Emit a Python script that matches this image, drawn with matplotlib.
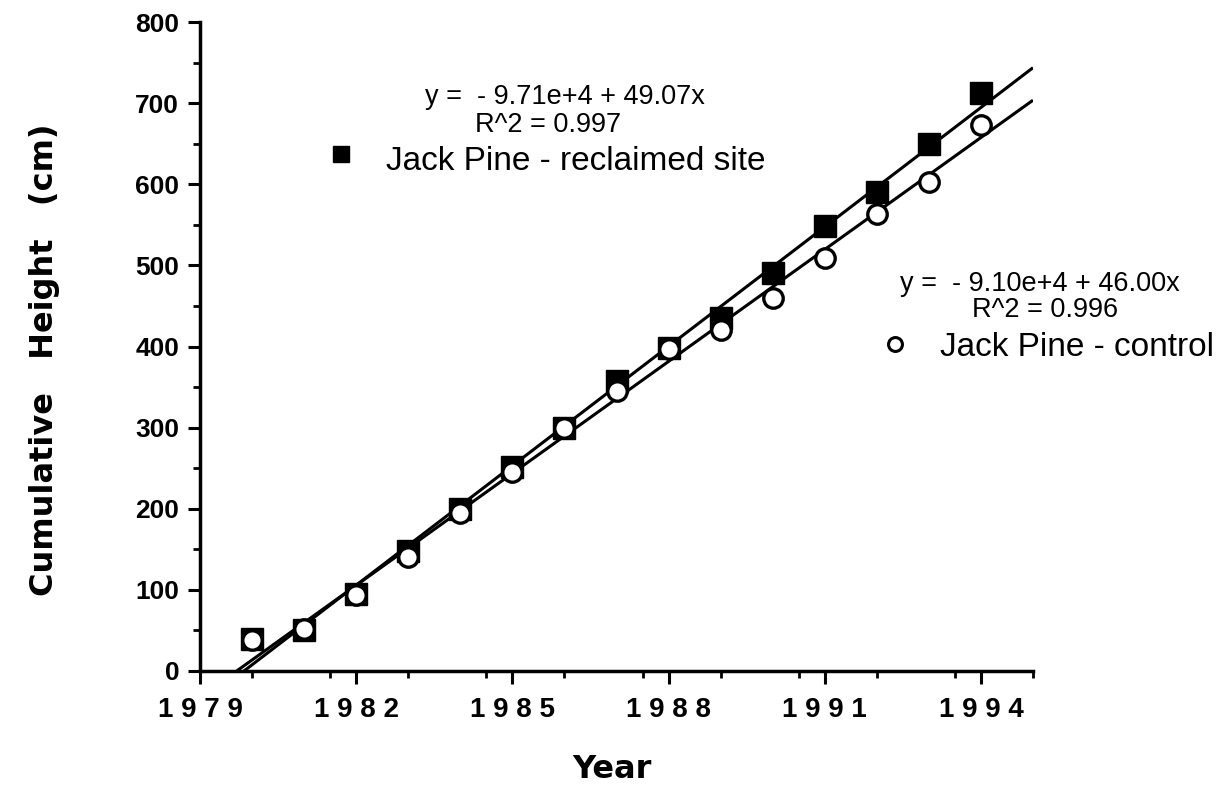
import numpy as np
import matplotlib
matplotlib.use("Agg")
import matplotlib.pyplot as plt
from matplotlib.ticker import MultipleLocator
from matplotlib.lines import Line2D

years = [1980, 1981, 1982, 1983, 1984, 1985, 1986, 1987,
         1988, 1989, 1990, 1991, 1992, 1993, 1994]
reclaimed = [40, 50, 95, 148, 200, 252, 300, 357, 398, 435, 490, 549, 591, 649, 713]
control = [38, 52, 94, 140, 195, 245, 300, 345, 397, 420, 460, 509, 563, 603, 673]

# slopes as printed on the chart
slope_reclaimed = 49.07
slope_control = 46.00
eq_reclaimed = ["y =  - 9.71e+4 + 49.07x", "R^2 = 0.997"]
eq_control = ["y =  - 9.10e+4 + 46.00x", "R^2 = 0.996"]

x_ticks = [1979, 1982, 1985, 1988, 1991, 1994]
x_max = 1995

W, H = 1223, 785


def fx(px):
    return px / W


def fy(py):
    return 1 - py / H


fig = plt.figure(figsize=(12.23, 7.85), dpi=100)
ax = fig.add_axes([fx(200), fy(671), fx(1033) - fx(200), fy(22) - fy(671)])


def fit_line(x, y, slope):
    x = np.asarray(x, float)
    y = np.asarray(y, float)
    xm, ym = x.mean(), y.mean()
    x0 = xm - ym / slope
    xs = np.array([x0, x_max])
    return xs, ym + slope * (xs - xm)


xs, ys = fit_line(years, reclaimed, slope_reclaimed)
ax.plot(xs, ys, color="black", lw=2.2, solid_capstyle="butt", zorder=2)
xs, ys = fit_line(years, control, slope_control)
ax.plot(xs, ys, color="black", lw=2.2, solid_capstyle="butt", zorder=2)

ax.plot(years, reclaimed, ls="none", marker="s", ms=15.5, mfc="black",
        mec="black", zorder=3, clip_on=False)
ax.plot(years, control, ls="none", marker="o", ms=14, mfc="white",
        mec="black", mew=2.4, zorder=4, clip_on=False)

ax.set_xlim(1979, x_max)
ax.set_ylim(0, 800)

for s in ["top", "right"]:
    ax.spines[s].set_visible(False)
for s in ["left", "bottom"]:
    ax.spines[s].set_linewidth(2.5)

ax.xaxis.set_major_locator(MultipleLocator(3))
ax.xaxis.set_minor_locator(MultipleLocator(1.5))
ax.yaxis.set_major_locator(MultipleLocator(100))
ax.yaxis.set_minor_locator(MultipleLocator(50))
ax.set_xticks(x_ticks)
ax.set_xticklabels([" ".join(str(t)) for t in x_ticks])
ax.tick_params(which="major", direction="out", length=9, width=2.2)
ax.tick_params(which="minor", direction="out", length=5, width=2)
ax.tick_params(axis="x", pad=10)
ax.tick_params(axis="y", pad=6)
for lab in ax.get_xticklabels():
    lab.set_fontfamily("Liberation Sans")
    lab.set_fontweight("bold")
    lab.set_fontsize(20)
for lab in ax.get_yticklabels():
    lab.set_fontfamily("Liberation Sans")
    lab.set_fontweight("bold")
    lab.set_fontsize(19)

fig.text(fx(45), fy(360), "Cumulative   Height   (cm)", rotation=90,
         ha="center", va="center", fontsize=23, fontweight="bold",
         family="DejaVu Sans")
fig.text(fx(612), fy(770), "Year", ha="center", va="center", fontsize=23,
         fontweight="bold", family="DejaVu Sans")

# reclaimed annotation
fig.text(fx(565), fy(97), eq_reclaimed[0], ha="center", va="center",
         fontsize=19.5, family="Liberation Sans")
fig.text(fx(548), fy(125), eq_reclaimed[1], ha="center", va="center",
         fontsize=19.5, family="Liberation Sans")
fig.add_artist(Line2D([fx(341)], [fy(154)], marker="s", ms=12, mfc="black",
                      mec="black", transform=fig.transFigure))
fig.text(fx(386), fy(161), "Jack Pine - reclaimed site", ha="left",
         va="center", fontsize=24, family="Liberation Sans")

# control annotation
fig.text(fx(1040), fy(284), eq_control[0], ha="center", va="center",
         fontsize=19.5, family="Liberation Sans")
fig.text(fx(1045), fy(310), eq_control[1], ha="center", va="center",
         fontsize=19.5, family="Liberation Sans")
fig.add_artist(Line2D([fx(895)], [fy(344)], marker="o", ms=10, mfc="white",
                      mec="black", mew=2.2, transform=fig.transFigure))
fig.text(fx(940), fy(348), "Jack Pine - control", ha="left",
         va="center", fontsize=24, family="Liberation Sans")

fig.savefig("out.png", dpi=100)
